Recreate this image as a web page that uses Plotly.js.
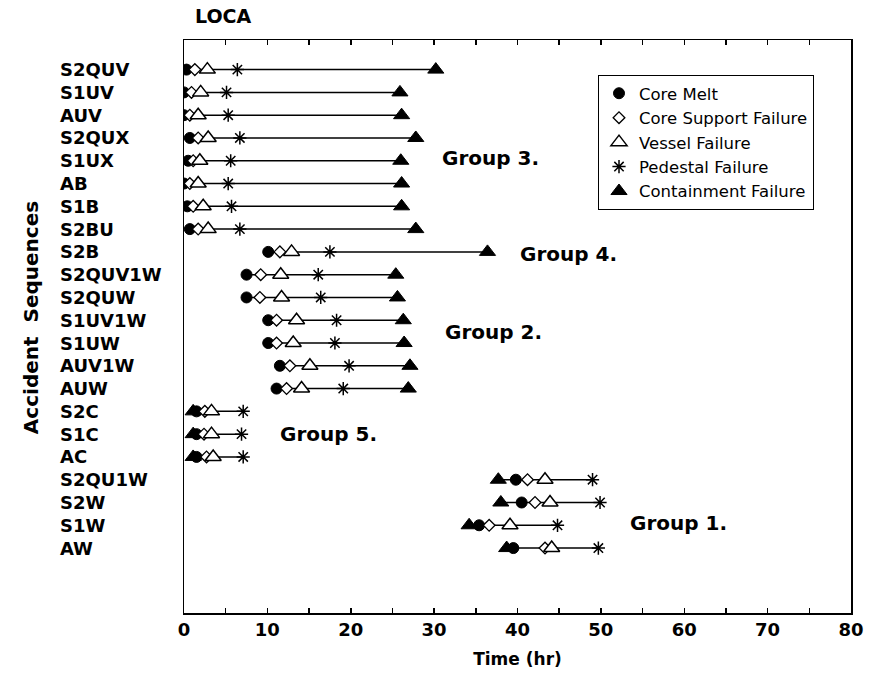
<!DOCTYPE html>
<html>
<head>
<meta charset="utf-8">
<script src="https://cdn.plot.ly/plotly-3.0.1.min.js"></script>
<style>html,body{margin:0;padding:0;background:#fff;}#chart{width:886px;height:676px;}</style>
</head>
<body>
<div id="chart"></div>
<script>
const categories = ['S2QUV','S1UV','AUV','S2QUX','S1UX','AB','S1B','S2BU','S2B','S2QUV1W','S2QUW','S1UV1W','S1UW','AUV1W','AUW','S2C','S1C','AC','S2QU1W','S2W','S1W','AW'];
const coreMelt    = [0.3,0.0,0.0,0.7,0.5,0.0,0.4,0.7,10.1,7.5,7.5,10.1,10.1,11.5,11.1,1.5,1.5,1.5,39.8,40.5,35.4,39.5];
const coreSupport = [1.3,0.9,0.7,1.7,1.1,0.7,1.1,1.7,11.5,9.2,9.1,11.1,11.1,12.7,12.3,2.5,2.4,2.7,41.2,42.1,36.6,43.3];
const vessel      = [2.8,2.0,1.7,2.9,1.9,1.7,2.3,2.9,12.9,11.6,11.7,13.5,13.1,15.1,14.1,3.3,3.3,3.5,43.3,43.9,39.1,44.1];
const pedestal    = [6.4,5.1,5.3,6.7,5.6,5.3,5.7,6.7,17.5,16.1,16.4,18.3,18.1,19.8,19.1,7.1,6.9,7.1,49.0,49.9,44.8,49.7];
const containment = [30.2,25.9,26.1,27.8,26.0,26.1,26.1,27.8,36.4,25.4,25.6,26.3,26.4,27.1,26.9,1.1,1.1,1.1,37.7,38.0,34.2,38.7];

const groupNames = ['Group 3.','Group 4.','Group 2.','Group 5.','Group 1.'];
const groupX     = [30.7, 40.0, 31.1, 11.3, 53.2];
const groupRow   = [3.9, 8.1, 11.5, 16.0, 19.9];

const xTickVals = [0,10,20,30,40,50,60,70,80];

const yIdx = categories.map((c,i)=>i);

// connecting lines (min..max per row)
const lx = [], ly = [];
categories.forEach((c,i)=>{
  const vals = [coreMelt[i],coreSupport[i],vessel[i],pedestal[i],containment[i]];
  lx.push(Math.min(...vals), Math.max(...vals), null);
  ly.push(i, i, null);
});

const traces = [
  {x: lx, y: ly, mode:'lines', line:{color:'#000', width:1.5}, showlegend:false, hoverinfo:'skip'},
  {x: containment, y: yIdx, mode:'markers', name:'Containment Failure', legendrank:5, legendgroup:'e',
   marker:{symbol:'triangle-up', size:14, color:'#000', line:{color:'#000', width:1}}},
  {x: coreMelt, y: yIdx, mode:'markers', name:'Core Melt', legendrank:1, legendgroup:'a',
   marker:{symbol:'circle', size:11, color:'#000', line:{color:'#000', width:1}}},
  {x: coreSupport, y: yIdx, mode:'markers', name:'Core Support Failure', legendrank:2, legendgroup:'b',
   marker:{symbol:'diamond', size:9, color:'#fff', line:{color:'#000', width:1.3}}},
  {x: vessel, y: yIdx, mode:'markers', name:'Vessel Failure', legendrank:3, legendgroup:'c',
   marker:{symbol:'triangle-up', size:14, color:'#fff', line:{color:'#000', width:1.5}}},
  {x: pedestal, y: yIdx, mode:'markers', name:'Pedestal Failure', legendrank:4, legendgroup:'d',
   marker:{symbol:'asterisk-open', size:11, color:'#000', line:{color:'#000', width:1.5}}}
];

const fam = 'DejaVu Sans';
const annotations = [];
categories.forEach((c,i)=>{
  annotations.push({text:'<b>'+c+'</b>', xref:'paper', yref:'y', x:-0.189, y:i, xanchor:'left', yanchor:'middle',
    showarrow:false, font:{family:fam, size:18, color:'#000'}});
});
groupNames.forEach((g,i)=>{
  annotations.push({text:'<b>'+g+'</b>', xref:'x', yref:'y', x:groupX[i], y:groupRow[i], xanchor:'left', yanchor:'middle',
    showarrow:false, font:{family:fam, size:20, color:'#000'}});
});
annotations.push({text:'<b>Accident  Sequences</b>', xref:'paper', yref:'paper', x:-0.229, y:0.515, textangle:-90,
  xanchor:'center', yanchor:'middle', showarrow:false, font:{family:fam, size:20, color:'#000'}});

const layout = {
  width:886, height:676,
  margin:{l:184, r:35, t:40, b:63},
  paper_bgcolor:'#fff', plot_bgcolor:'#fff',
  title:{text:'<b>LOCA</b>', x:195/886, xanchor:'left', xref:'container', y:1-16/676, yanchor:'middle', yref:'container',
    font:{family:fam, size:19, color:'#000'}},
  xaxis:{range:[0,80], tickvals:xTickVals, ticks:'inside', ticklen:5, tickcolor:'#000', tickwidth:1.5,
    minor:{dtick:5, tick0:0, ticks:'inside', ticklen:5, tickcolor:'#000', tickwidth:1.5, showgrid:false},
    showline:true, linecolor:'#000', linewidth:1.5, mirror:'ticks', showgrid:false, zeroline:false,
    tickfont:{family:fam, size:18, color:'#000', weight:'bold'}, ticklabelstandoff:0,
    title:{text:'<b>Time (hr)</b>', font:{family:fam, size:17, color:'#000'}, standoff:14}},
  yaxis:{range:[23.85,-1.3], showticklabels:false, ticks:'', showline:true, linecolor:'#000', linewidth:1.5,
    mirror:true, showgrid:false, zeroline:false},
  showlegend:true,
  legend:{x:(598-184)/667, y:(613-75)/573, xanchor:'left', yanchor:'top', bgcolor:'#fff', bordercolor:'#000', borderwidth:1,
    font:{family:fam, size:16.5, color:'#000'}, tracegroupgap:10, traceorder:'normal'},
  annotations: annotations
};

Plotly.newPlot('chart', traces, layout, {displayModeBar:false, staticPlot:true});
</script>
</body>
</html>
